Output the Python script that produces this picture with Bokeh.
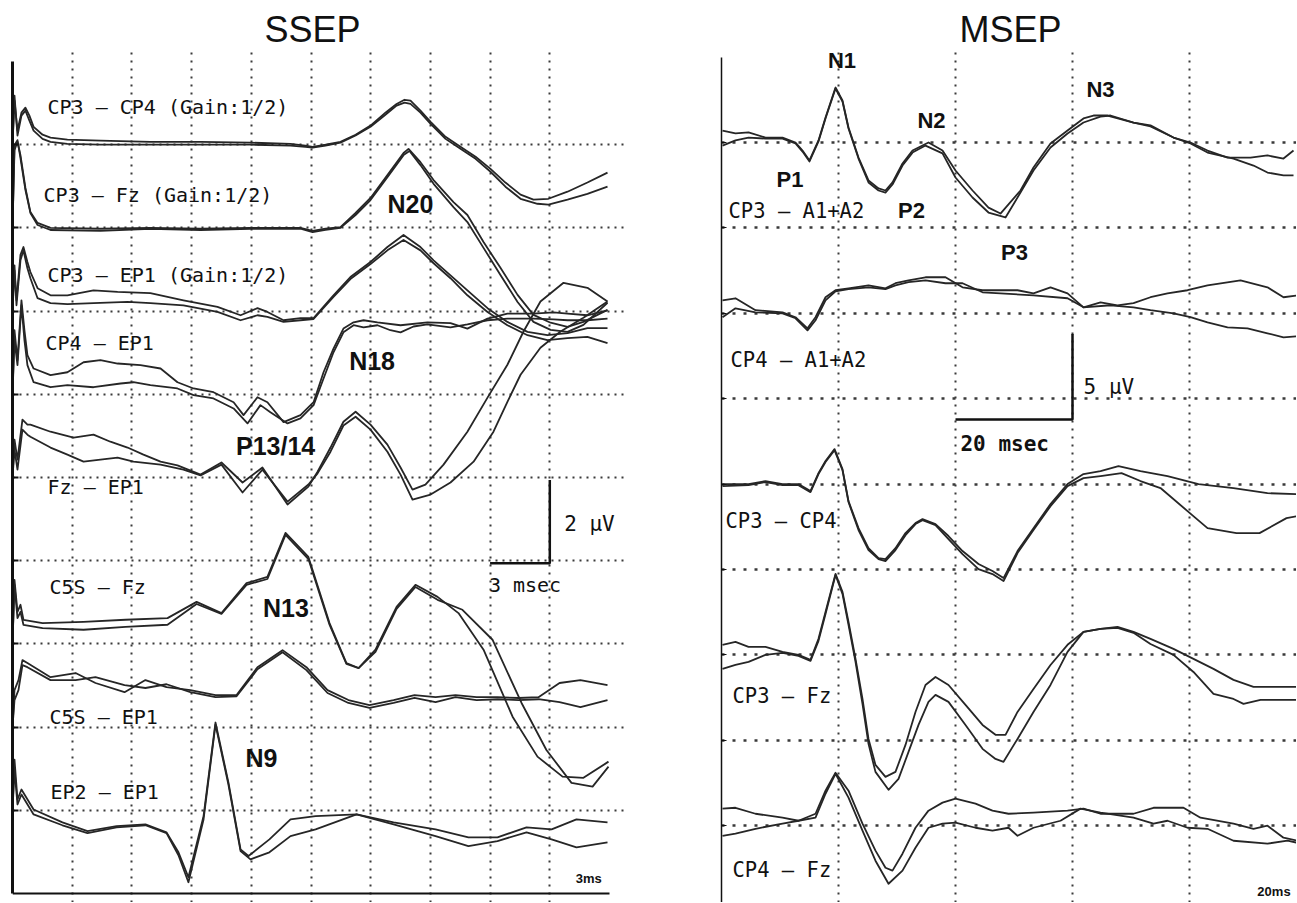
from bokeh.plotting import figure
from bokeh.layouts import row
from bokeh.models import Range1d, FixedTicker, Label
from bokeh.embed import file_html
from bokeh.resources import INLINE

# ======================= SSEP: (time ms, displayed amplitude uV) =======================
SSEP_CP3_CP4_A = [(0.0,0.0),(0.10,1.06),(0.25,0.34),(0.45,0.77),(0.65,0.89),(0.85,0.70),(1.06,0.43),(1.51,0.24),(1.91,0.17),(2.76,0.12),(4.42,0.10),(6.93,0.07),(9.45,0.07),(11.96,0.05),(13.97,0.02),(14.72,-0.02),(15.08,-0.05),(15.73,0.0),(16.48,0.07),(17.24,0.24),(17.99,0.46),(18.74,0.77),(19.30,0.98),(19.70,1.08),(20.00,1.06),(20.50,0.82),(21.01,0.55),(21.76,0.19),(22.51,-0.05),(23.27,-0.29),(24.02,-0.58),(24.77,-0.91),(25.53,-1.20),(26.18,-1.32),(26.93,-1.30),(27.89,-1.13),(28.89,-0.91),(29.90,-0.67)]
SSEP_CP3_CP4_B = [(0.0,0.0),(0.10,1.18),(0.25,0.22),(0.45,0.70),(0.65,0.82),(0.85,0.58),(1.06,0.34),(1.51,0.14),(1.91,0.07),(2.76,0.02),(4.42,0.0),(6.93,0.0),(9.45,0.0),(11.96,0.0),(13.97,-0.02),(14.72,-0.05),(15.08,-0.07),(15.73,-0.02),(16.48,0.05),(17.24,0.22),(17.99,0.43),(18.74,0.72),(19.30,0.94),(19.70,1.01),(20.00,0.98),(20.50,0.77),(21.01,0.50),(21.76,0.14),(22.51,-0.10),(23.27,-0.34),(24.02,-0.65),(24.77,-1.01),(25.53,-1.30),(26.38,-1.42),(26.93,-1.44),(27.89,-1.32),(28.89,-1.18),(29.90,-1.01)]
SSEP_CP3_FZ_A = [(0.0,0.0),(0.10,1.87),(0.25,2.07),(0.40,1.75),(0.65,0.96),(0.90,0.38),(1.26,0.12),(1.91,0.0),(4.42,-0.02),(6.93,0.0),(9.45,-0.02),(11.96,0.0),(14.47,0.0),(15.08,-0.07),(15.73,-0.02),(16.48,0.02),(17.24,0.36),(17.99,0.72),(18.84,1.27),(19.65,1.80),(19.90,1.90),(20.50,1.58),(21.16,1.15),(22.16,0.62),(22.86,0.31),(23.67,-0.34),(24.52,-0.96),(25.38,-1.61),(26.18,-2.09),(27.04,-2.28),(27.89,-2.38),(28.69,-2.26),(29.90,-1.97)]
SSEP_CP3_FZ_B = [(0.0,0.0),(0.10,1.99),(0.25,2.11),(0.40,1.68),(0.65,0.91),(0.90,0.36),(1.26,0.07),(1.91,-0.05),(4.42,-0.07),(6.93,-0.02),(9.45,-0.05),(11.96,-0.02),(14.47,-0.02),(15.08,-0.10),(15.73,-0.05),(16.48,0.0),(17.24,0.31),(17.99,0.67),(18.84,1.22),(19.65,1.75),(19.95,1.85),(20.50,1.51),(21.16,1.06),(22.16,0.50),(22.86,0.14),(23.67,-0.48),(24.52,-1.13),(25.38,-1.78),(26.18,-2.26),(27.04,-2.45),(27.89,-2.50),(28.69,-2.33),(29.90,-1.80)]
SSEP_CP3_EP1_A = [(0.0,0.0),(0.10,0.98),(0.20,0.26),(0.40,1.35),(0.55,1.54),(0.75,1.18),(0.90,0.94),(1.26,0.55),(1.91,0.38),(2.76,0.38),(4.07,0.50),(5.28,0.46),(6.93,0.43),(8.59,0.26),(10.30,0.10),(11.46,-0.10),(12.31,0.07),(12.81,-0.02),(13.62,-0.22),(14.47,-0.17),(15.13,-0.17),(16.13,0.38),(16.98,0.82),(17.99,1.18),(18.84,1.54),(19.65,1.83),(20.50,1.54),(21.16,1.22),(22.01,0.86),(22.86,0.50),(23.87,0.07),(24.87,-0.26),(25.88,-0.50),(26.88,-0.58),(27.89,-0.53),(28.89,-0.41),(29.90,-0.41)]
SSEP_CP3_EP1_B = [(0.0,0.0),(0.10,1.10),(0.20,0.14),(0.40,1.22),(0.55,1.46),(0.75,1.03),(0.90,0.79),(1.26,0.31),(1.91,0.19),(2.76,0.17),(4.07,0.19),(5.78,0.22),(6.93,0.19),(8.59,0.14),(10.30,-0.02),(11.46,-0.22),(12.31,-0.10),(12.81,-0.14),(13.62,-0.26),(14.47,-0.22),(15.13,-0.19),(16.13,0.34),(16.98,0.77),(17.99,1.13),(18.84,1.46),(19.65,1.71),(20.50,1.46),(21.16,1.15),(22.01,0.79),(22.86,0.38),(23.87,-0.02),(24.87,-0.34),(25.88,-0.58),(26.88,-0.70),(27.89,-0.65),(28.89,-0.62),(29.90,-0.77)]
SSEP_CP4_EP1_A = [(0.0,0.0),(0.10,1.54),(0.25,0.82),(0.45,2.26),(0.60,1.54),(0.75,0.94),(1.06,0.62),(1.91,0.46),(2.76,0.53),(3.57,0.77),(4.42,0.82),(5.28,0.74),(6.43,0.70),(7.44,0.62),(8.29,0.29),(9.10,0.14),(10.10,0.05),(11.11,-0.19),(11.61,-0.50),(12.31,-0.07),(12.81,-0.19),(13.62,-0.67),(14.47,-0.50),(15.13,-0.19),(15.63,0.53),(16.13,1.10),(16.63,1.58),(17.14,1.73),(17.64,1.78),(18.34,1.73),(19.50,1.66),(20.85,1.73),(22.01,1.71),(22.86,1.58),(23.87,1.82),(24.87,1.94),(26.18,1.94),(27.19,1.97),(27.89,1.94),(28.89,1.90),(29.90,2.02)]
SSEP_CP4_EP1_B = [(0.0,0.0),(0.10,1.30),(0.25,0.70),(0.45,2.14),(0.60,1.30),(0.75,0.70),(1.06,0.29),(1.91,0.17),(2.76,0.22),(4.07,0.17),(5.43,0.26),(6.08,0.29),(6.93,0.22),(8.29,0.14),(9.10,-0.02),(10.10,-0.10),(11.11,-0.34),(11.81,-0.70),(12.46,-0.26),(12.96,-0.43),(13.82,-0.70),(14.47,-0.58),(15.13,-0.26),(15.63,0.38),(16.13,1.01),(16.63,1.49),(17.14,1.66),(17.64,1.61),(18.34,1.66),(18.99,1.54),(19.50,1.49),(20.15,1.63),(20.85,1.68),(22.01,1.61),(22.86,1.68),(23.87,1.78),(24.87,1.82),(26.18,1.82),(27.19,1.80),(27.89,1.78),(28.89,1.78),(29.90,1.82)]
SSEP_FZ_EP1_A = [(0.0,0.0),(0.10,0.91),(0.25,0.43),(0.50,1.39),(0.75,1.27),(0.90,1.27),(1.91,1.10),(3.07,0.96),(4.07,1.03),(4.92,0.86),(5.78,0.72),(6.58,0.55),(7.44,0.38),(8.29,0.29),(9.45,0.07),(10.50,0.36),(11.56,-0.12),(12.56,0.24),(13.82,-0.65),(14.87,-0.22),(15.33,0.14),(15.98,0.72),(16.63,1.34),(17.24,1.58),(17.99,1.27),(18.84,0.79),(19.50,0.24),(20.10,-0.29),(20.75,-0.17),(21.66,0.31),(22.86,1.10),(23.87,1.92),(24.87,2.71),(25.68,3.51),(26.53,4.23),(27.69,4.68),(28.89,4.56),(29.90,4.23)]
SSEP_FZ_EP1_B = [(0.0,0.0),(0.10,0.67),(0.25,0.19),(0.50,1.15),(0.75,1.03),(0.90,0.98),(1.91,0.72),(2.76,0.55),(3.57,0.38),(4.42,0.43),(5.28,0.48),(6.08,0.38),(7.44,0.31),(8.59,0.19),(9.45,0.05),(10.50,0.31),(11.56,-0.36),(12.56,0.19),(13.82,-0.58),(14.87,-0.17),(15.33,0.10),(15.98,0.62),(16.63,1.25),(17.24,1.46),(17.99,1.15),(18.84,0.62),(19.50,0.07),(20.10,-0.53),(21.01,-0.41),(22.01,-0.12),(23.17,0.38),(24.17,1.10),(24.87,1.82),(25.53,2.47),(26.53,3.12),(27.54,3.51),(28.69,3.84),(29.90,4.23)]
SSEP_C5S_FZ_A = [(0.0,0.0),(0.10,1.54),(0.25,0.77),(0.40,0.94),(0.55,0.58),(1.51,0.50),(3.57,0.53),(5.68,0.58),(7.79,0.62),(9.25,1.01),(10.50,0.74),(11.76,1.46),(12.81,1.61),(13.72,2.67),(14.87,2.09),(15.93,0.50),(16.78,-0.46),(17.39,-0.58),(18.24,-0.14),(19.30,0.89),(20.25,1.42),(21.36,1.13),(22.41,0.74),(23.67,-0.14),(25.13,-1.75),(26.38,-2.71),(27.64,-3.19),(28.69,-3.22),(29.95,-2.83)]
SSEP_C5S_FZ_B = [(0.0,0.0),(0.10,1.42),(0.25,0.62),(0.40,0.77),(0.55,0.46),(1.51,0.38),(3.57,0.34),(5.68,0.41),(7.79,0.46),(9.25,0.96),(10.50,0.72),(11.76,1.42),(12.81,1.56),(13.72,2.62),(14.87,2.04),(15.93,0.46),(16.78,-0.48),(17.39,-0.58),(18.24,-0.19),(19.30,0.84),(20.25,1.37),(21.36,1.06),(22.61,0.82),(24.12,0.10),(25.58,-1.42),(26.83,-2.55),(28.09,-3.34),(29.15,-3.43),(29.95,-2.95)]
SSEP_C5S_EP1_A = [(0.0,0.0),(0.10,0.89),(0.30,1.13),(0.50,1.61),(0.75,1.54),(1.91,1.20),(3.17,1.30),(4.17,1.06),(5.63,0.84),(6.68,1.13),(7.74,0.96),(8.94,0.89),(10.20,0.77),(11.26,0.77),(12.31,1.44),(13.57,1.85),(14.77,1.44),(15.83,0.89),(16.88,0.65),(17.94,0.53),(19.15,0.65),(20.20,0.77),(21.26,0.72),(22.26,0.77),(23.32,0.72),(24.37,0.72),(25.43,0.70),(26.43,0.72),(27.49,1.06),(28.54,1.13),(29.90,1.01)]
SSEP_C5S_EP1_B = [(0.0,0.0),(0.10,0.65),(0.30,0.89),(0.50,1.49),(0.75,1.44),(1.91,1.13),(3.17,1.13),(4.17,1.20),(5.63,1.01),(6.68,0.94),(7.74,1.03),(8.94,0.84),(10.20,0.72),(11.26,0.74),(12.31,1.39),(13.57,1.80),(14.77,1.37),(15.83,0.82),(16.88,0.58),(17.94,0.46),(19.15,0.58),(20.20,0.70),(21.26,0.60),(22.26,0.72),(23.32,0.65),(24.37,0.67),(25.43,0.65),(26.43,0.67),(27.49,0.60),(28.54,0.48),(29.90,0.65)]
SSEP_EP2_EP1_A = [(0.0,0.0),(0.10,1.22),(0.25,0.26),(0.45,0.50),(1.06,0.02),(2.51,-0.29),(3.77,-0.50),(5.23,-0.38),(6.68,-0.34),(7.74,-0.53),(8.34,-1.01),(8.84,-1.61),(9.60,-0.14),(10.20,2.11),(10.85,0.67),(11.46,-0.94),(11.86,-1.10),(12.91,-0.70),(13.97,-0.22),(15.23,-0.14),(17.29,-0.10),(19.15,-0.29),(21.26,-0.46),(22.91,-0.65),(24.37,-0.65),(25.83,-0.41),(27.09,-0.46),(28.34,-0.22),(29.90,-0.29)]
SSEP_EP2_EP1_B = [(0.0,0.0),(0.10,0.98),(0.25,0.14),(0.45,0.38),(1.06,-0.10),(2.51,-0.36),(3.77,-0.55),(5.23,-0.41),(6.68,-0.36),(7.74,-0.55),(8.34,-1.08),(8.84,-1.73),(9.60,-0.22),(10.20,2.06),(10.85,0.62),(11.46,-0.98),(11.96,-1.18),(12.91,-1.01),(13.97,-0.62),(15.23,-0.46),(17.29,-0.10),(19.15,-0.34),(21.26,-0.62),(22.91,-0.86),(24.37,-0.74),(25.83,-0.53),(27.09,-0.70),(28.34,-0.89),(29.90,-0.77)]

SSEP_CHANNELS = ["CP3 – CP4 (Gain:1/2)", "CP3 – Fz (Gain:1/2)", "CP3 – EP1 (Gain:1/2)", "CP4 – EP1",
                 "Fz – EP1", "C5S – Fz", "C5S – EP1", "EP2 – EP1"]
SSEP_TRACES = [(SSEP_CP3_CP4_A, SSEP_CP3_CP4_B), (SSEP_CP3_FZ_A, SSEP_CP3_FZ_B), (SSEP_CP3_EP1_A, SSEP_CP3_EP1_B),
               (SSEP_CP4_EP1_A, SSEP_CP4_EP1_B), (SSEP_FZ_EP1_A, SSEP_FZ_EP1_B), (SSEP_C5S_FZ_A, SSEP_C5S_FZ_B),
               (SSEP_C5S_EP1_A, SSEP_C5S_EP1_B), (SSEP_EP2_EP1_A, SSEP_EP2_EP1_B)]
SSEP_PEAKS = ["N20", "N18", "P13/14", "N13", "N9"]
SSEP_UV_PER_DIV = 2.0
SSEP_MS_PER_DIV = 3.0
SSEP_SWEEP_MS = 30.0

# ======================= MSEP: (time ms, displayed amplitude uV) =======================
MSEP_CP3_A1A2_A = [(0.17,0.70),(2.39,0.53),(4.62,0.59),(7.52,0.29),(10.43,0.29),(12.65,0.0),(13.85,-0.47),(15.04,-1.05),(16.58,0.12),(17.78,1.46),(19.49,3.22),(20.68,2.46),(21.71,0.88),(23.42,-0.88),(25.13,-2.22),(26.84,-2.69),(28.03,-2.81),(29.23,-2.34),(30.94,-1.23),(32.65,-0.47),(35.38,0.0),(37.78,-0.47),(40.00,-1.64),(42.91,-2.81),(45.64,-3.81),(47.69,-4.16),(51.11,-2.81),(53.33,-1.46),(56.24,-0.06),(59.15,0.70),(61.88,1.41),(63.59,1.58),(65.98,1.58),(70.43,1.17),(73.33,1.00),(77.26,0.29),(80.17,0.0),(83.08,-0.47),(86.50,-0.88),(90.43,-0.88),(93.33,-0.76),(96.07,-0.94),(97.78,-0.47)]
MSEP_CP3_A1A2_B = [(0.17,-0.18),(2.39,0.12),(4.62,0.29),(7.52,0.23),(10.43,0.23),(12.65,-0.06),(13.85,-0.53),(15.04,-1.11),(16.58,0.06),(17.78,1.41),(19.49,3.16),(20.68,2.40),(21.71,0.82),(23.42,-0.94),(25.13,-2.34),(26.84,-2.81),(28.03,-2.93),(29.23,-2.46),(30.94,-1.35),(32.65,-0.59),(34.87,-0.18),(37.78,-0.64),(40.00,-2.05),(42.91,-3.22),(45.64,-4.10),(48.55,-4.39),(51.11,-2.93),(53.33,-1.64),(56.24,-0.29),(59.15,0.53),(61.88,1.17),(64.79,1.52),(66.50,1.58),(70.43,1.17),(73.33,0.94),(77.26,0.29),(80.17,-0.06),(83.08,-0.59),(87.52,-0.94),(90.94,-1.35),(93.33,-1.76),(96.07,-1.93),(97.78,-1.93)]
MSEP_CP4_A1A2_A = [(0.17,0.76),(2.39,0.88),(5.81,0.18),(10.43,0.06),(12.65,-0.23),(14.70,-0.88),(16.07,-0.23),(17.78,0.94),(19.49,1.35),(21.71,1.46),(25.13,1.64),(28.03,1.46),(29.74,1.76),(31.97,1.93),(34.87,2.11),(38.29,2.11),(41.20,1.52),(44.62,1.35),(47.69,1.35),(50.60,1.35),(53.33,1.17),(56.24,1.52),(59.15,1.17),(61.88,0.35),(64.79,0.64),(67.69,0.47),(70.43,0.59),(73.33,0.94),(76.24,1.17),(79.66,1.35),(83.08,1.64),(88.72,1.93),(93.33,1.52),(96.07,0.94),(98.46,1.05)]
MSEP_CP4_A1A2_B = [(0.17,-0.23),(2.39,0.29),(5.81,0.06),(10.43,0.0),(12.65,-0.29),(14.70,-1.00),(16.07,-0.41),(17.78,0.76),(19.49,1.29),(21.71,1.41),(25.13,1.52),(28.03,1.41),(29.74,1.64),(31.97,1.82),(34.87,1.93),(38.29,1.76),(41.20,1.76),(44.62,1.23),(47.69,1.17),(53.33,1.05),(59.15,0.88),(61.88,0.35),(66.50,0.47),(70.43,0.35),(73.33,0.18),(77.26,0.0),(80.17,-0.23),(83.08,-0.53),(86.50,-0.82),(89.91,-0.88),(93.33,-1.17),(96.07,-1.41),(98.46,-1.35)]
MSEP_CP3_CP4_A = [(0.17,0.0),(4.62,0.0),(7.52,0.18),(10.43,0.0),(13.16,0.0),(15.21,-0.41),(16.58,0.64),(17.78,1.35),(19.32,2.05),(20.68,0.88),(21.71,-1.00),(23.42,-2.58),(25.13,-3.75),(26.84,-4.33),(28.03,-4.39),(29.74,-3.75),(31.45,-2.87),(33.16,-2.28),(34.36,-2.05),(36.58,-2.34),(38.80,-3.04),(41.20,-3.92),(43.93,-4.68),(46.32,-5.09),(48.21,-5.50),(50.60,-3.92),(53.33,-2.58),(56.24,-1.17),(59.15,0.0),(61.88,0.59),(64.79,0.76),(67.86,1.05),(71.62,0.76),(76.24,0.47),(81.54,0.0),(87.52,-0.23),(93.33,-0.53),(98.46,-0.59)]
MSEP_CP3_CP4_B = [(0.17,-0.12),(4.62,-0.06),(7.52,0.12),(10.43,-0.06),(13.16,-0.06),(15.21,-0.47),(16.58,0.59),(17.78,1.29),(19.32,1.99),(20.68,0.82),(21.71,-1.05),(23.42,-2.69),(25.13,-3.86),(26.84,-4.39),(28.03,-4.51),(29.74,-3.86),(31.45,-2.99),(33.16,-2.34),(34.36,-2.11),(36.58,-2.40),(38.80,-3.22),(41.20,-4.10),(43.93,-4.98),(46.32,-5.27),(48.21,-5.68),(50.60,-4.04),(53.33,-2.69),(56.24,-1.29),(59.15,-0.12),(61.88,0.35),(64.79,0.47),(68.38,0.64),(71.62,0.18),(75.04,-0.23),(79.66,-1.58),(83.08,-2.58),(88.03,-2.87),(91.97,-2.87),(96.58,-1.99),(98.46,-1.87)]
MSEP_CP3_FZ_A = [(0.17,0.59),(2.39,0.76),(4.62,0.47),(7.52,0.47),(10.43,0.18),(13.16,0.0),(15.21,-0.29),(16.58,0.94),(17.78,2.52),(19.49,4.74),(20.68,3.69),(21.71,1.93),(22.91,-0.23),(24.10,-2.58),(25.13,-4.92),(26.32,-6.44),(28.03,-7.14),(29.74,-6.85),(31.45,-5.27),(33.16,-3.34),(34.87,-1.76),(36.58,-1.29),(38.80,-1.76),(41.71,-2.93),(44.62,-4.10),(46.84,-4.68),(48.55,-4.68),(50.60,-3.34),(53.33,-1.99),(56.24,-0.59),(59.15,0.59),(61.88,1.35),(64.79,1.52),(67.69,1.64),(70.43,1.35),(73.33,0.94),(77.26,0.35),(80.68,-0.23),(84.10,-0.82),(87.52,-1.46),(90.94,-1.87),(94.36,-1.87),(98.46,-1.87)]
MSEP_CP3_FZ_B = [(0.17,-0.82),(2.39,-0.59),(4.62,-0.41),(7.52,0.0),(10.43,0.12),(13.16,-0.06),(15.21,-0.35),(16.58,0.82),(17.78,2.40),(19.49,4.68),(20.68,3.57),(21.71,1.76),(22.91,-0.41),(24.10,-2.87),(25.13,-5.21),(26.32,-6.85),(28.55,-7.90),(30.26,-7.26),(31.97,-5.68),(33.68,-4.10),(35.38,-2.75),(36.58,-2.34),(38.80,-2.75),(41.71,-4.10),(44.62,-5.50),(46.84,-6.09),(48.21,-6.26),(50.60,-4.92),(53.33,-3.34),(56.24,-1.76),(59.15,0.18),(61.88,1.35),(64.79,1.52),(67.69,1.58),(70.43,1.29),(73.33,0.64),(77.26,0.0),(80.68,-1.00),(84.10,-2.28),(87.52,-2.58),(89.23,-2.87),(92.14,-2.63),(98.46,-2.63)]
MSEP_CP4_FZ_A = [(0.17,1.00),(2.39,1.05),(5.81,0.70),(10.43,0.47),(13.16,0.29),(16.07,0.70),(17.78,2.05),(19.49,3.10),(21.71,2.05),(24.10,0.12),(26.32,-1.46),(28.03,-2.46),(29.23,-2.63),(30.94,-1.64),(33.16,-0.12),(35.38,0.88),(37.78,1.35),(40.00,1.58),(43.42,1.29),(46.32,0.88),(49.06,0.70),(53.33,0.76),(59.15,0.88),(61.88,1.00),(64.79,0.70),(70.43,0.70),(73.85,1.05),(78.97,1.05),(81.88,0.47),(87.52,0.12),(90.94,-0.18),(93.33,0.0),(96.07,-0.70),(98.46,-0.88)]
MSEP_CP4_FZ_B = [(0.17,-0.59),(2.39,-0.47),(5.81,-0.18),(10.43,0.12),(13.16,0.29),(16.07,0.47),(17.78,1.87),(19.49,3.04),(21.71,1.64),(24.10,-0.29),(26.32,-2.05),(28.55,-3.40),(30.94,-2.63),(33.16,-1.29),(35.38,-0.12),(37.78,0.12),(40.00,0.18),(43.42,-0.12),(46.32,-0.29),(49.06,-0.12),(50.60,-0.59),(53.33,-0.12),(57.95,0.29),(61.37,1.00),(64.79,0.76),(70.43,0.47),(73.85,0.12),(76.24,0.29),(79.66,-0.12),(83.08,-0.18),(87.52,-0.88),(93.33,-1.05),(96.75,-0.88),(98.46,-1.00)]

MSEP_CHANNELS = ["CP3 – A1+A2", "CP4 – A1+A2", "CP3 – CP4", "CP3 – Fz", "CP4 – Fz"]
MSEP_TRACES = [(MSEP_CP3_A1A2_A, MSEP_CP3_A1A2_B), (MSEP_CP4_A1A2_A, MSEP_CP4_A1A2_B),
               (MSEP_CP3_CP4_A, MSEP_CP3_CP4_B), (MSEP_CP3_FZ_A, MSEP_CP3_FZ_B), (MSEP_CP4_FZ_A, MSEP_CP4_FZ_B)]
MSEP_PEAKS = ["N1", "P1", "N2", "P2", "P3", "N3"]
MSEP_UV_PER_DIV = 5.0
MSEP_MS_PER_DIV = 20.0

# ======================= layout / style (positions) =======================
SSEP_OFFSETS = [9, 8, 7, 6, 5, 3, 2, 1]
SSEP_LABEL_POS = [(1.76, 9.357), (1.56, 8.299), (1.76, 7.338), (1.66, 6.52), (1.76, 4.79), (1.86, 3.588), (1.86, 2.025), (1.91, 1.124)]
SSEP_PEAK_POS = [(20.0, 8.17), (18.07, 6.286), (13.22, 5.264), (13.74, 3.317), (12.51, 1.514)]
MSEP_OFFSETS = [9, 7, 5, 3, 1]
MSEP_LABEL_POS = [(1.20, 8.11), (1.54, 6.365), (0.68, 4.48), (1.88, 2.431), (1.88, 0.394)]
MSEP_PEAK_POS = [(20.6, 9.867), (11.71, 8.473), (35.9, 9.164), (32.48, 8.11), (50.09, 7.618), (64.79, 9.527)]

TRACE_COLOR = "#262626"
GRID_COLOR = "#3a3a3a"
TEXT_COLOR = "#111111"
LABEL_FONT = "'DejaVu Sans Mono', monospace"
PEAK_FONT = "'Liberation Sans', Arial, sans-serif"
TITLE_FONT = "Liberation Sans"

FIG_TOP = 48          # px from top of page to top of both frames
FRAME_H = 854         # both frames reach the bottom of the page
SSEP_PX_PER_DIV = 83.2
MSEP_PX_PER_DIV = 85.4
BASELINE_FIX = 0.38   # em: lift the text so its alphabetic baseline sits on y


def add_text(p, x, y, text, size, px_per_div, font=LABEL_FONT, style="normal", align="left"):
    y_adj = y + BASELINE_FIX * size / px_per_div
    p.add_layout(Label(x=x, y=y_adj, text=text, text_font=font, text_font_size=f"{size}px",
                       text_font_style=style, text_align=align, text_baseline="alphabetic",
                       text_color=TEXT_COLOR))


def base_fig(title, x_end, y_start, y_end, fw, bl, br, axis_bottom):
    p = figure(frame_width=fw, frame_height=FRAME_H, min_border_left=bl, min_border_right=br,
               min_border_top=FIG_TOP, min_border_bottom=0, x_range=Range1d(0, x_end),
               y_range=Range1d(y_start, y_end), toolbar_location=None, output_backend="svg",
               title=title, x_axis_location=None)
    p.background_fill_color = "white"
    p.border_fill_color = "white"
    p.outline_line_color = None
    p.title.text_font = TITLE_FONT
    p.title.text_font_size = "36px"
    p.title.text_font_style = "normal"
    p.title.text_color = TEXT_COLOR
    p.title.align = "left"
    p.title.standoff = -3
    for ax in p.yaxis:
        ax.major_label_text_color = None
        ax.major_label_text_font_size = "1px"
        ax.major_label_standoff = 0
        ax.major_tick_out = 0
        ax.minor_tick_in = 0
        ax.minor_tick_out = 0
        ax.axis_line_color = "#111111"
        ax.major_tick_line_color = "#111111"
        ax.ticker = FixedTicker(ticks=list(range(1, 10)))
        ax.major_tick_in = 6
        ax.bounds = (axis_bottom, 10)
    p.ygrid.ticker = FixedTicker(ticks=list(range(1, 10)))
    return p


def draw_traces(p, traces, offsets, uv_per_div, width):
    for (ta, tb), off in zip(traces, offsets):
        for tr in (ta, tb):
            xs = [t for t, v in tr]
            ys = [off + v / uv_per_div for t, v in tr]
            p.line(xs, ys, line_color=TRACE_COLOR, line_width=width, line_join="round")


# ---------------- SSEP figure (1 div = 83.2 px, 3 ms = 59.7 px) ----------------
s_top = 10 + (61 - FIG_TOP) / SSEP_PX_PER_DIV
s_bot = -(FIG_TOP + FRAME_H - 893) / SSEP_PX_PER_DIV
p1 = base_fig("SSEP", 614 / 19.9, s_bot, s_top, 614, 12, 34, 0)
p1.title.offset = 252
p1.xgrid.ticker = FixedTicker(ticks=[SSEP_MS_PER_DIV * k for k in range(1, 10)])
p1.xgrid.grid_line_color = GRID_COLOR
p1.xgrid.grid_line_width = 2
p1.xgrid.grid_line_dash = "2 6"
p1.ygrid.grid_line_color = GRID_COLOR
p1.ygrid.grid_line_width = 2
p1.ygrid.grid_line_dash = "2 5"
p1.yaxis.axis_line_width = 3
p1.yaxis.major_tick_line_width = 2
# time axis line of the sweep
p1.line([0, SSEP_SWEEP_MS], [0, 0], line_color="#111111", line_width=2)

draw_traces(p1, SSEP_TRACES, SSEP_OFFSETS, SSEP_UV_PER_DIV, 1.8)

for name, (lx, ly) in zip(SSEP_CHANNELS, SSEP_LABEL_POS):
    add_text(p1, lx, ly, name, 20, SSEP_PX_PER_DIV)
for name, (lx, ly) in zip(SSEP_PEAKS, SSEP_PEAK_POS):
    add_text(p1, lx, ly, name, 25, SSEP_PX_PER_DIV, font=PEAK_FONT, style="bold", align="center")

# scale bar: 3 ms x 2 uV
sb_t, sb_y = 27.0, 3.97
p1.line([sb_t - SSEP_MS_PER_DIV, sb_t, sb_t], [sb_y, sb_y, sb_y + 2.0 / SSEP_UV_PER_DIV],
         line_color="#111111", line_width=2.5)
add_text(p1, 27.72, 4.345, "2 μV", 21, SSEP_PX_PER_DIV)
add_text(p1, 23.94, 3.618, "3 msec", 20, SSEP_PX_PER_DIV)
add_text(p1, 28.3, 0.12, "3ms", 13, SSEP_PX_PER_DIV, font=PEAK_FONT, style="bold")

# ---------------- MSEP figure (1 div = 85.4 px, 20 ms = 117 px) ----------------
m_top = 10 + (56.6 - FIG_TOP) / MSEP_PX_PER_DIV
m_bot = 10 - (FIG_TOP + FRAME_H - 56.6) / MSEP_PX_PER_DIV
p2 = base_fig("MSEP", 575 / 5.85, m_bot, m_top, 575, 61, 0, m_bot)
p2.title.offset = 238
p2.xgrid.ticker = FixedTicker(ticks=[MSEP_MS_PER_DIV * k for k in range(1, 5)])
p2.xgrid.grid_line_color = GRID_COLOR
p2.xgrid.grid_line_width = 2
p2.xgrid.grid_line_dash = "2 6"
p2.ygrid.grid_line_color = GRID_COLOR
p2.ygrid.grid_line_width = 2.5
p2.ygrid.grid_line_dash = "3 8"
p2.yaxis.axis_line_width = 1.5
p2.yaxis.major_tick_in = 5

draw_traces(p2, MSEP_TRACES, MSEP_OFFSETS, MSEP_UV_PER_DIV, 1.8)

for name, (lx, ly) in zip(MSEP_CHANNELS, MSEP_LABEL_POS):
    add_text(p2, lx, ly, name, 20.5, MSEP_PX_PER_DIV)
for name, (lx, ly) in zip(MSEP_PEAKS, MSEP_PEAK_POS):
    add_text(p2, lx, ly, name, 22, MSEP_PX_PER_DIV, font=PEAK_FONT, style="bold", align="center")

# scale bar: 20 ms x 5 uV
sb2_t, sb2_y = 60.0, 5.757
p2.line([sb2_t - MSEP_MS_PER_DIV, sb2_t, sb2_t], [sb2_y, sb2_y, sb2_y + 5.0 / MSEP_UV_PER_DIV],
         line_color="#111111", line_width=2.5)
add_text(p2, 61.9, 6.04, "5 μV", 21, MSEP_PX_PER_DIV)
add_text(p2, 40.85, 5.38, "20 msec", 21, MSEP_PX_PER_DIV, style="bold")
add_text(p2, 91.6, 0.171, "20ms", 13, MSEP_PX_PER_DIV, font=PEAK_FONT, style="bold")

layout = row(p1, p2)
open("out.html", "w").write(file_html(layout, INLINE))
